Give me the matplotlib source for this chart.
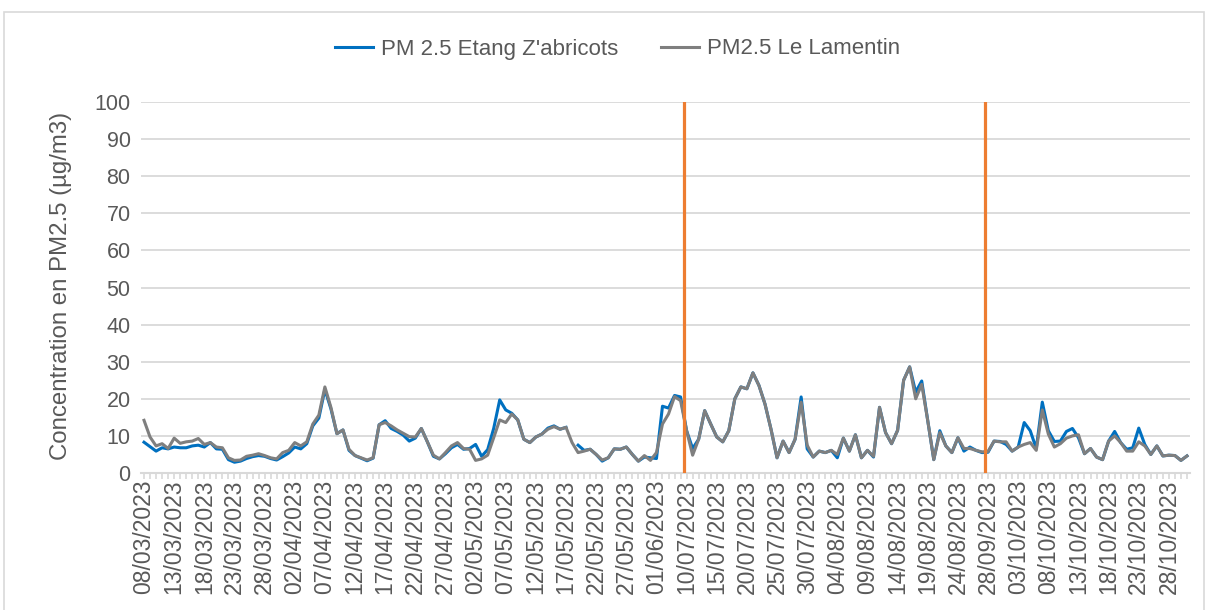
import numpy as np
import pandas as pd
import matplotlib
matplotlib.use("Agg")
import matplotlib.pyplot as plt
from matplotlib.patches import Rectangle

# ---------------- data ----------------
dates = list(pd.date_range("2023-03-08", "2023-06-05").strftime("%d/%m/%Y")) + \
        list(pd.date_range("2023-07-10", "2023-08-28").strftime("%d/%m/%Y")) + \
        list(pd.date_range("2023-09-28", "2023-10-31").strftime("%d/%m/%Y"))

etang = [8.3, 7.1, 5.9, 6.8, 6.5, 7.0, 6.8, 6.8, 7.3, 7.5,
         7.0, 8.2, 6.5, 6.4, 3.6, 2.9, 3.2, 3.9, 4.4, 4.7,
         4.5, 3.9, 3.5, 4.4, 5.4, 7.0, 6.5, 7.9, 12.7, 14.8,
         22.5, 17.3, 10.6, 11.6, 6.1, 4.7, 4.0, 3.3, 4.0, 13.0,
         14.1, 12.0, 11.2, 10.2, 8.6, 9.4, 12.0, 8.4, 4.5, 3.8,
         5.2, 6.8, 7.7, 6.4, 6.6, 7.7, 4.5, 6.3, 12.0, 19.7,
         17.0, 16.1, 14.3, 9.1, 8.2, 9.7, 10.5, 12.1, 12.7, 11.8,
         12.3, np.nan, 7.5, 6.1, 6.4, 5.0, 3.2, 4.1, 6.5, 6.4,
         7.0, 5.0, 3.2, 4.3, 4.1, 3.9, 18.0, 17.5, 20.9, 20.5,
         11.4, 6.6, 9.1, 16.8, 13.2, 9.7, 8.4, 11.4, 20.0, 23.2,
         22.7, 27.0, 23.6, 18.6, 11.8, 4.1, 8.6, 5.5, 9.1, 20.5,
         6.5, 4.3, 5.9, 5.5, 6.1, 4.1, 9.4, 5.9, 10.3, 4.1,
         6.1, 4.3, 17.7, 10.9, 7.9, 11.5, 25.0, 28.6, 21.8, 24.8,
         14.1, 3.6, 11.4, 7.3, 5.5, 9.5, 5.9, 7.0, 6.1, 5.5,
         5.6, 8.6, 8.5, 7.7, 5.9, 7.0, 13.6, 11.4, 6.6, 19.1,
         11.4, 8.5, 8.6, 11.2, 12.0, 9.5, 5.2, 6.6, 4.3, 3.6,
         8.6, 11.2, 8.2, 6.4, 6.8, 12.1, 7.7, 5.0, 7.3, 4.6,
         4.8, 4.7, 3.4, 4.6]

lamentin = [14.2, 9.7, 7.3, 7.9, 6.6, 9.4, 8.0, 8.4, 8.6, 9.3,
            7.7, 8.2, 7.0, 6.8, 4.1, 3.4, 3.5, 4.5, 4.8, 5.2,
            4.7, 4.1, 3.8, 5.5, 6.1, 8.2, 7.3, 8.4, 13.2, 15.6,
            23.2, 17.7, 10.6, 11.6, 6.4, 4.7, 4.1, 3.5, 4.1, 13.0,
            13.6, 12.7, 11.6, 10.7, 9.8, 9.7, 12.0, 8.4, 4.8, 3.8,
            5.5, 7.3, 8.2, 6.6, 6.4, 3.4, 3.8, 4.8, 9.5, 14.3,
            13.6, 15.9, 14.3, 9.1, 8.2, 9.7, 10.5, 11.8, 12.5, 11.8,
            12.3, 8.2, 5.5, 5.9, 6.4, 5.0, 3.5, 4.1, 6.5, 6.4,
            7.0, 5.0, 3.2, 4.7, 3.4, 5.5, 13.2, 15.9, 20.6, 19.5,
            11.4, 4.8, 9.1, 16.8, 13.2, 9.7, 8.4, 11.4, 20.0, 23.2,
            22.7, 27.0, 23.6, 18.6, 11.8, 4.1, 8.6, 5.5, 9.1, 19.1,
            7.5, 4.3, 5.9, 5.5, 6.1, 5.0, 9.4, 5.9, 10.3, 4.1,
            6.1, 4.5, 17.7, 10.9, 7.9, 11.5, 25.0, 28.6, 20.0, 23.9,
            14.1, 3.6, 10.9, 7.3, 5.5, 9.5, 6.6, 6.6, 6.1, 5.7,
            5.8, 8.6, 8.4, 8.4, 5.9, 7.0, 7.7, 8.2, 6.1, 17.0,
            10.5, 7.0, 7.9, 9.4, 10.0, 10.3, 5.2, 6.6, 4.3, 3.6,
            8.6, 10.0, 8.2, 5.9, 5.9, 8.4, 7.3, 5.0, 7.3, 4.6,
            4.8, 4.7, 3.4, 4.6]

event_positions = [89.5, 139.5]
yticks = list(range(0, 101, 10))

# ---------------- style ----------------
FONT = "Liberation Sans"
TXT = "#595959"
GRID = "#d9d9d9"
BLUE = "#0070C0"
GREY = "#7F7F7F"
ORANGE = "#ED7D31"

plt.rcParams["font.family"] = [FONT, "DejaVu Sans"]

fig = plt.figure(figsize=(12.08, 6.10), dpi=100)
W, H = 1208, 610
ax = fig.add_axes([141 / W, 1 - 473 / H, (1190 - 141) / W, (473 - 102) / H])

x = np.arange(len(dates))
ax.plot(x, etang, color=BLUE, lw=2.2, solid_joinstyle="round", label="PM 2.5 Etang Z'abricots", zorder=3)
ax.plot(x, lamentin, color=GREY, lw=2.2, solid_joinstyle="round", label="PM2.5 Le Lamentin", zorder=4)

for p in event_positions:
    ax.axvline(p, color=ORANGE, lw=2.3, zorder=5)

ax.set_xlim(-0.5, len(dates) - 0.5)
ax.set_ylim(0, 100)
ax.set_yticks(yticks)
ax.set_yticklabels([str(v) for v in yticks], fontsize=15.5, color=TXT)
ax.tick_params(axis="y", length=0, pad=7.5)
ax.grid(axis="y", color=GRID, lw=1.3, zorder=0)

ax.set_xticks(x)
ax.set_xticklabels([d if i % 5 == 0 else "" for i, d in enumerate(dates)],
                   rotation=90, fontsize=16.5, color=TXT)
ax.tick_params(axis="x", length=4, width=1.2, color=GRID, pad=1)

for s in ["top", "right", "left"]:
    ax.spines[s].set_visible(False)
ax.spines["bottom"].set_color(GRID)
ax.spines["bottom"].set_linewidth(1.5)

fig.text(61 / W, 1 - 286 / H, "Concentration en PM2.5 (µg/m3)", rotation=90,
         ha="center", va="center", fontsize=17.3, color=TXT)

leg = fig.legend(loc="center", bbox_to_anchor=(617.5 / W, 1 - 49 / H), ncol=2, frameon=False,
                 fontsize=16, handlelength=1.72, handletextpad=0.38, columnspacing=1.9)
for t in leg.get_texts():
    t.set_color(TXT)

fig.add_artist(Rectangle((4 / W, -0.02), (1204 - 4) / W, 1 - 12 / H + 0.02,
                         transform=fig.transFigure, fill=False, edgecolor=GRID, lw=1.2))

fig.savefig("out.png", dpi=100)
